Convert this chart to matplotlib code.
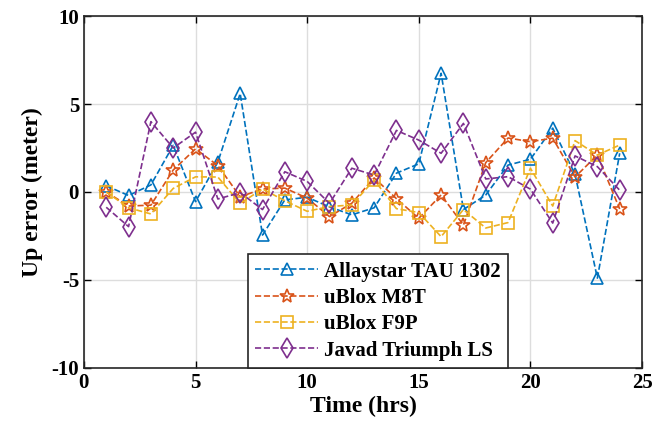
import matplotlib.pyplot as plt

hours = list(range(1, 25))

allaystar = [0.35, -0.2, 0.4, 2.65, -0.55, 1.7, 5.6, -2.45, -0.45, -0.3, -0.85, -1.3,
             -0.9, 1.07, 1.6, 6.75, -1.0, -0.17, 1.53, 1.86, 3.63, 1.0, -4.9, 2.2]
m8t = [0.0, -0.8, -0.75, 1.25, 2.45, 1.5, -0.27, 0.17, 0.22, -0.35, -1.4, -0.64,
       0.8, -0.38, -1.5, -0.17, -1.88, 1.67, 3.07, 2.86, 3.06, 0.85, 2.1, -0.97]
f9p = [0.0, -0.9, -1.25, 0.2, 0.86, 0.85, -0.65, 0.17, -0.5, -1.1, -0.83, -0.74,
       0.68, -0.95, -1.17, -2.54, -1.0, -2.05, -1.74, 1.35, -0.8, 2.92, 2.1, 2.67]
javad = [-0.87, -1.97, 4.0, 2.5, 3.4, -0.4, -0.04, -1.0, 1.15, 0.6, -0.65, 1.35,
         0.96, 3.5, 2.95, 2.2, 3.9, 0.74, 0.87, 0.16, -1.77, 2.05, 1.44, 0.1]

series = [
    ('Allaystar TAU 1302', allaystar, '#0072BD', '^'),
    ('uBlox M8T', m8t, '#D95319', '*'),
    ('uBlox F9P', f9p, '#EDB120', 's'),
    ('Javad Triumph LS', javad, '#7E2F8E', 'd'),
]


def main():
    plt.rcParams['font.family'] = ['Liberation Serif', 'DejaVu Serif']
    plt.rcParams['font.weight'] = 'bold'
    plt.rcParams['axes.unicode_minus'] = False

    fig = plt.figure(figsize=(6.66, 4.48), dpi=100)
    ax = fig.add_axes([0.126, 0.179, 0.838, 0.785])

    for label, vals, color, marker in series:
        size = {'*': 10, 'd': 10, 's': 8, '^': 9}[marker]
        ax.plot(hours, vals, linestyle='--', color=color, linewidth=1.2,
                marker=marker, markersize=size, markerfacecolor='none',
                markeredgewidth=1.2, label=label)

    ax.set_xlim(0, 25)
    ax.set_ylim(-10, 10)
    ax.set_xticks([0, 5, 10, 15, 20, 25])
    ax.set_yticks([-10, -5, 0, 5, 10])
    ax.grid(True, color='#dddddd', linewidth=1)
    ax.set_axisbelow(True)
    ax.tick_params(direction='in', top=True, right=True, labelsize=15,
                   length=5, width=1)
    for sp in ax.spines.values():
        sp.set_color('#262626')
        sp.set_linewidth(1.2)

    ax.set_xlabel('Time (hrs)', fontsize=17, fontweight='bold', labelpad=2)
    ax.set_ylabel('Up error (meter)', fontsize=17, fontweight='bold', labelpad=6)

    leg = ax.legend(loc='lower center', bbox_to_anchor=(0.527, 0.0),
                    borderaxespad=0, fontsize=15, fancybox=False, framealpha=1,
                    edgecolor='#262626', handlelength=3.0, borderpad=0.35,
                    labelspacing=0.3, handletextpad=0.3)
    leg.get_frame().set_linewidth(1.2)

    fig.savefig('out.png', dpi=100)


if __name__ == '__main__':
    main()
